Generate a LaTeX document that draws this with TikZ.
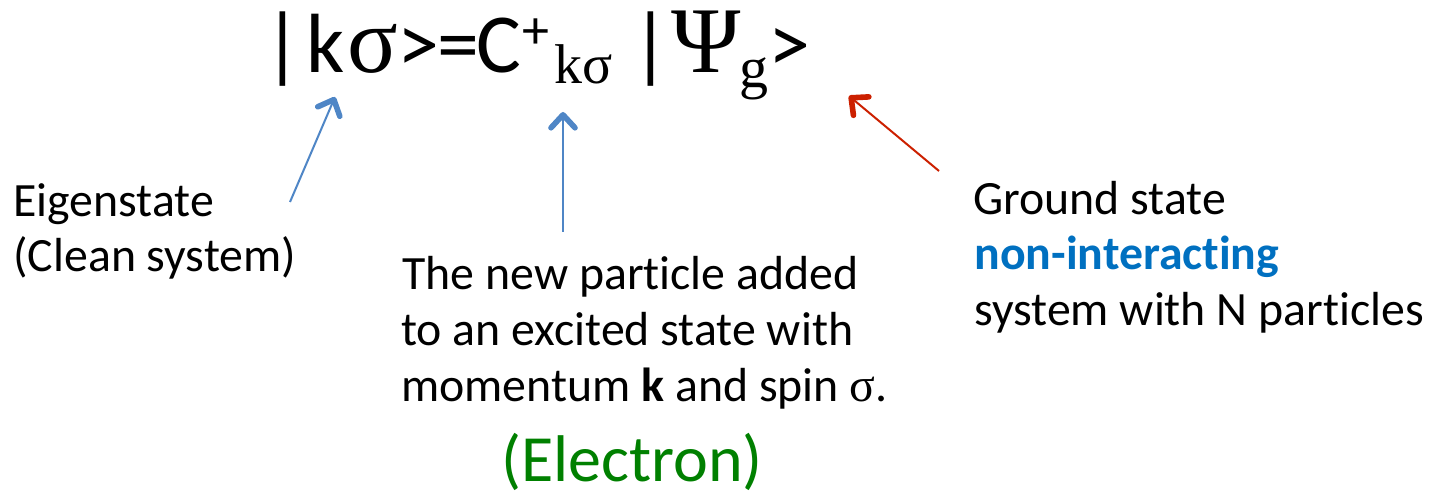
\documentclass[tikz,border=0pt]{standalone}
\usepackage{fontspec}
\setmainfont{Carlito}[Ligatures=NoCommon]
\newfontfamily\grk{Liberation Serif}
\usetikzlibrary{arrows.meta}
\definecolor{arrblue}{RGB}{79,134,198}
\definecolor{arrred}{RGB}{204,32,0}
\definecolor{txtblue}{RGB}{0,112,192}
\definecolor{txtgreen}{RGB}{0,128,0}
\tikzset{
  txt/.style={anchor=base west, inner sep=0pt, font=\fontsize{23.9}{28}\selectfont},
  eqpart/.style={anchor=base, inner sep=0pt, font=\fontsize{42}{50}\selectfont},
  grbig/.style={anchor=base, inner sep=0pt, font=\fontsize{47}{56}\selectfont\grk},
  grsub/.style={anchor=base, inner sep=0pt, font=\fontsize{28}{33}\selectfont\grk},
  arr/.style={line width=1pt, -{Straight Barb[length=6.5pt,width=12pt,line width=2.8pt,round]}},
}
\begin{document}
\begin{tikzpicture}[x=0.5pt,y=-0.5pt]
\useasboundingbox (0,0) rectangle (1437,491);
% equation
\node[eqpart] (bar1) at (283,73) {|};
\node[eqpart] (k1) at (326,73) {k};
\node[grbig] (sig1) at (373,73) {σ};
\node[eqpart] (gt1) at (418,73) {>};
\node[eqpart] (eqs) at (458,73) {=};
\node[eqpart] (C) at (499,73) {C};
\node[anchor=center, inner sep=0pt, font=\fontsize{27}{32}\selectfont] (plus) at (536,34) {+};
\node[grsub] (sub) at (584,84) {kσ};
\node[eqpart] (bar2) at (651,73) {|};
\node[grbig] (Psi) at (706,73) {Ψ};
\node[grsub, font=\fontsize{29}{34}\selectfont\grk] (g) at (754,88) {g};
\node[eqpart] (gt2) at (789,73) {>};
% left text
\node[txt] (eig1) at (13,217) {Eigenstate};
\node[txt] (eig2) at (13,272) {(Clean system)};
% middle text
\node[txt] (mid1) at (402,290) {The new particle added};
\node[txt] (mid2) at (401,346) {to an excited state with};
\node[txt] (mid3) at (401,402) {momentum \textbf{k} and spin {\grk σ}.};
\node[anchor=base, inner sep=0pt, font=\fontsize{33}{40}\selectfont, text=txtgreen] (elec) at (632,482) {(Electron)};
% right text
\node[txt] (gs1) at (973,215) {Ground state};
\node[txt, text=txtblue, font=\fontsize{23.9}{28}\selectfont\bfseries] (gs2) at (974,270) {non-interacting};
\node[txt] (gs3) at (974,326) {system with N particles};
% arrows
\coordinate (a1s) at (290,202);
\coordinate (a1e) at (335,97);
\coordinate (a2s) at (563,232);
\coordinate (a2e) at (563,112);
\coordinate (a3s) at (939,171);
\coordinate (a3e) at (849,96);
\draw[arr, arrblue] (a1s) -- (a1e);
\draw[arr, arrblue] (a2s) -- (a2e);
\draw[arr, arrred] (a3s) -- (a3e);
\end{tikzpicture}
\end{document}
